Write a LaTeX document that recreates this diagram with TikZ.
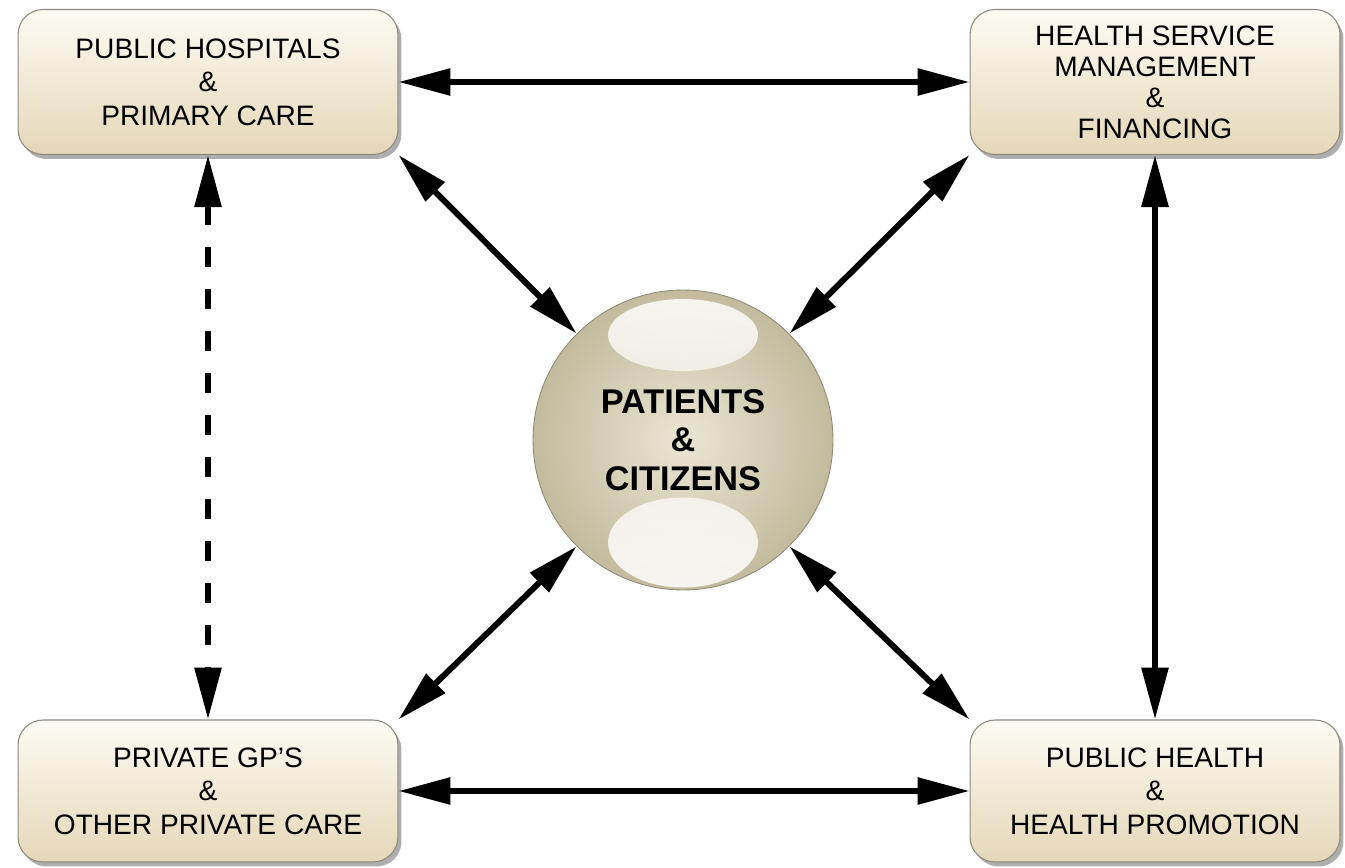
\documentclass[tikz,border=0pt]{standalone}
\usepackage{fontspec}
\setmainfont{Liberation Sans}
\usetikzlibrary{arrows.meta,shadows,positioning}

\definecolor{boxtop}{HTML}{FDFBF3}
\definecolor{boxbot}{HTML}{E5D7B8}
\definecolor{boxline}{HTML}{8C8A7E}
\definecolor{ballmid}{HTML}{EAE6D4}
\definecolor{balledge}{HTML}{C2BB9D}

\begin{document}
\begin{tikzpicture}[x=0.02cm,y=-0.02cm]
    \tikzstyle{every node}+=[inner sep=0pt]
    \tikzstyle{carebox}=[rectangle, rounded corners=0.5cm, draw=boxline, line width=0.6pt, top color=boxtop, bottom color=boxbot, minimum width=7.6cm, minimum height=2.9cm, align=center, font=\fontsize{16}{19}\selectfont, drop shadow={shadow xshift=0.07cm, shadow yshift=-0.09cm, opacity=0.45, fill=black!70}]
    \tikzstyle{link}=[line width=0.12cm, {Triangle[length=1.04cm,width=0.52cm]}-{Triangle[length=1.04cm,width=0.52cm]}]
    \useasboundingbox (0,0) rectangle (1345,868);
    \node[carebox] (hosp) at (208,82) {PUBLIC HOSPITALS\\\&\\PRIMARY CARE};
    \node[carebox, minimum width=7.4cm, font=\fontsize{16}{17.6}\selectfont] (mgmt) at (1155,82) {HEALTH SERVICE\\MANAGEMENT\\\&\\FINANCING};
    \node[carebox, minimum height=2.84cm] (gps) at (208,791) {PRIVATE GP'S\\\&\\OTHER PRIVATE CARE};
    \node[carebox, minimum width=7.4cm, minimum height=2.84cm] (phealth) at (1155,791) {PUBLIC HEALTH\\\&\\HEALTH PROMOTION};
    \node[circle, minimum size=6cm, draw=balledge!75!black, line width=0.5pt, inner color=ballmid, outer color=balledge, align=center, font=\bfseries\fontsize{19.5}{22}\selectfont] (pat) at (683,440) {PATIENTS\\\&\\CITIZENS};
    % glossy highlights on the ball
    \shade[top color=white, bottom color=white!55!ballmid, opacity=0.85] ([yshift=2.1cm]pat.center) ellipse [x radius=1.5cm, y radius=0.72cm];
    \shade[top color=white!70!ballmid, bottom color=white, opacity=0.85] ([yshift=-2.05cm]pat.center) ellipse [x radius=1.5cm, y radius=0.9cm];
    \draw[link] (hosp) -- (mgmt);
    \draw[link] (gps) -- (phealth);
    \draw[link, dash pattern=on 0.4cm off 0.44cm] (hosp) -- (gps);
    \draw[link] (mgmt) -- (phealth);
    \draw[link] (hosp.south east) -- (pat.135);
    \draw[link] (mgmt.south west) -- (pat.45);
    \draw[link] (gps.north east) -- (pat.225);
    \draw[link] (phealth.north west) -- (pat.-45);
\end{tikzpicture}
\end{document}
